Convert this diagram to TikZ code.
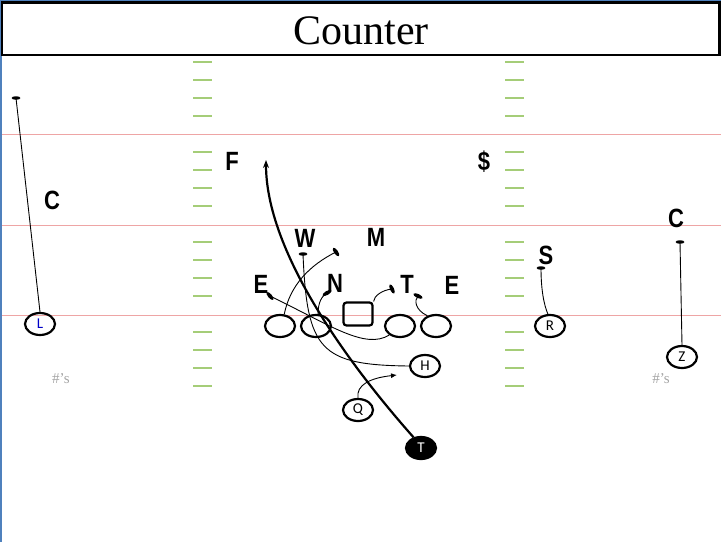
\documentclass[tikz,border=0pt]{standalone}
\usepackage{fontspec}
\setmainfont{Liberation Serif}
\newfontfamily\labfont{Liberation Sans}
\newfontfamily\plfont{Carlito}
\usetikzlibrary{shapes.geometric,arrows.meta}
\definecolor{pinkline}{RGB}{238,165,165}
\definecolor{hashgreen}{RGB}{165,205,120}
\definecolor{edgeblue}{RGB}{79,129,189}
\definecolor{numgray}{RGB}{165,165,165}
\definecolor{lblue}{RGB}{0,0,200}
\newcommand\mytall[1]{\scalebox{1}[1.2]{#1}}
\begin{document}
\begin{tikzpicture}[x=1pt,y=-1pt,
  defl/.style={font=\labfont\bfseries\fontsize{22}{22}\selectfont, inner sep=0pt},
  dmark/.style={ellipse, fill=black, minimum width=10pt, minimum height=4pt, inner sep=0pt},
  player/.style={ellipse, draw, line width=2.2pt, minimum width=30pt, minimum height=22pt, inner sep=0pt, font=\plfont\fontsize{15}{15}\selectfont},
  ctrbox/.style={rectangle, rounded corners=3pt, draw, line width=2.2pt, minimum width=29pt, minimum height=23pt},
  route/.style={line width=0.9pt},
  hashmark/.style={draw=hashgreen, line width=1.3pt},
  yardline/.style={draw=pinkline, line width=1.4pt},
  numlab/.style={font=\fontsize{15}{15}\selectfont, text=numgray, inner sep=0pt}]
\useasboundingbox (0,0) rectangle (721,542);
% field lines
\foreach \yy in {134.5,225.5,315.5} \draw[yardline] (0,\yy) -- (721,\yy);
\foreach \yy in {62,80,98,116,152,170,188,206,242,260,278,296,332,350,368,386} {
  \draw[hashmark] (193,\yy) -- (212,\yy);
  \draw[hashmark] (505,\yy) -- (524,\yy);
}
\draw[edgeblue, line width=1.5pt] (0.75,0) -- (0.75,542);
\draw[edgeblue, line width=1pt] (0,0.5) -- (721,0.5);
% title
\draw[line width=2.4pt] (1.8,2.5) rectangle (719.5,55);
\node[font=\fontsize{42}{42}\selectfont, inner sep=0pt] (title) at (361,31) {Counter};
% numbers
\node[numlab] (numl) at (61,379) {\#’s};
\node[numlab] (numr) at (661,379) {\#’s};
% defender labels
\node[defl] (lF) at (232,161) {\mytall{F}};
\node[defl] (lS) at (484,162) {\mytall{\$}};
\node[defl] (lCl) at (52,200) {\mytall{C}};
\node[defl] (lCr) at (676,218) {\mytall{C}};
\node[defl] (lW) at (305,238) {\mytall{W}};
\node[defl] (lM) at (376,237) {\mytall{M}};
\node[defl] (lEl) at (261,284) {\mytall{E}};
\node[defl] (lN) at (335,283) {\mytall{N}};
\node[defl] (lT) at (407,284) {\mytall{T}};
\node[defl] (lEr) at (452,285) {\mytall{E}};
\node[defl] (lSs) at (546,255) {\mytall{S}};
% defender marks
\node[dmark, minimum width=9pt, minimum height=3.5pt] (mCl) at (16,98) {};
\node[dmark, minimum width=9pt, minimum height=3.5pt] (mW) at (303,254) {};
\node[dmark, rotate=-55] (mM) at (336,252) {};
\node[dmark, rotate=-50] (mEl) at (270,296) {};
\node[dmark, rotate=30] (mN) at (327,293) {};
\node[dmark, rotate=-65] (mT) at (392,289) {};
\node[dmark, rotate=-25] (mEr) at (418,296) {};
\node[dmark, minimum width=9pt, minimum height=3.5pt] (mS) at (541,268) {};
\node[dmark, minimum width=9pt, minimum height=3.5pt] (mCr) at (680,242) {};
% offense
\node[player] (LT) at (280,326) {};
\node[player] (LG) at (316,326) {};
\node[ctrbox] (ctr) at (358,314) {};
\node[player] (RG) at (400,326) {};
\node[player] (RT) at (436,326) {};
\node[player] (H) at (425,366) {H};
\node[player] (Q) at (358,410) {Q};
\node[player, fill=black, text=white] (T) at (421,448) {T};
\node[player, text=lblue] (L) at (40,324) {L};
\node[player] (R) at (550,326) {R};
\node[player] (Z) at (682,357) {Z};
% routes
\draw[route] (mCl.center) -- (L.north);
\draw[route] (mCr.center) -- (Z.north);
\draw[route] (mS.center) .. controls (541,290) and (544,305) .. (R.100);
\draw[route] (mW.center) .. controls (307,350) and (320,365) .. (H.west);
\draw[route] (LT.70) .. controls (290,285) and (310,265) .. (mM.center);
\draw[route] (mEl.center) .. controls (330,325) and (365,350) .. (RG.220);
\draw[route] (LG.80) .. controls (318,302) and (322,296) .. (mN.center);
\draw[route] (ctr.north east) .. controls (374,296) and (382,290) .. (mT.center);
\draw[route] (RT.130) .. controls (415,310) and (414,300) .. (mEr.center);
\coordinate (qend) at (397,375);
\draw[route, -{Latex[length=6pt,width=5pt]}] (Q.north) .. controls (356,385) and (370,378) .. (qend);
\coordinate (tend) at (266,160);
\draw[line width=2.2pt, -{Stealth[length=8pt,width=6pt]}] (T.125) .. controls (345,360) and (266,250) .. (tend);
\end{tikzpicture}
\end{document}
